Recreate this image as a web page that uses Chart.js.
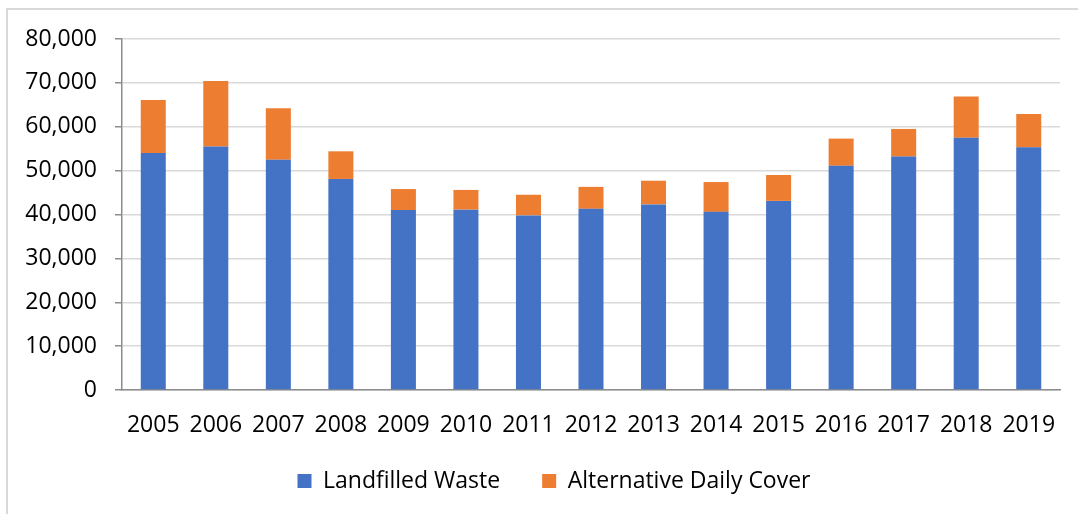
<!DOCTYPE html>
<html>
<head>
<meta charset="utf-8">
<script src="https://cdn.jsdelivr.net/npm/chart.js@4.4.1/dist/chart.umd.min.js"></script>
<style>
  html, body { margin: 0; padding: 0; background: #ffffff; overflow: hidden; }
  #wrap { position: relative; width: 1078px; height: 514px; }
  #frame { position: absolute; left: 6px; top: 8px; width: 1100px; height: 540px; border: 2px solid #d9d9d9; box-sizing: border-box; pointer-events: none; }
  canvas { position: absolute; left: 0; top: 0; }
</style>
</head>
<body>
<div id="wrap">
  <div id="frame"></div>
  <canvas id="c" width="1078" height="514"></canvas>
</div>
<script>
const years = ['2005','2006','2007','2008','2009','2010','2011','2012','2013','2014','2015','2016','2017','2018','2019'];
const landfilledWaste = [54000, 55500, 52500, 48100, 41000, 41100, 39800, 41300, 42300, 40600, 43100, 51100, 53200, 57500, 55300];
const alternativeDailyCover = [12100, 14900, 11700, 6300, 4800, 4500, 4700, 5000, 5400, 6800, 5900, 6200, 6300, 9400, 7600];
const yMax = 80000;
const yStep = 10000;

const FONT = '"Open Sans", "Liberation Sans", sans-serif';
const LEGEND_HEIGHT = 72;
const LEGEND_PAD = 42;
const LEGEND_FONT = 23;
const LEGEND_TEXT_Y = 481;
const LEGEND_SHIFT_X = 24;

const legendPatch = {
  id: 'legendPatch',
  beforeLayout(chart) {
    const lg = chart.legend;
    if (lg && !lg._fitPatched) {
      const orig = lg.fit;
      lg.fit = function () { orig.call(this); this.height = LEGEND_HEIGHT; };
      lg._fitPatched = true;
    }
  },
  afterLayout(chart) {
    const lg = chart.legend;
    if (!lg) return;
    const newTop = LEGEND_TEXT_Y - LEGEND_PAD - LEGEND_FONT / 2;
    const dy = newTop - lg.top;
    lg.top += dy; lg.bottom += dy;
    lg.left += LEGEND_SHIFT_X; lg.right += LEGEND_SHIFT_X;
  }
};

new Chart(document.getElementById('c'), {
  type: 'bar',
  data: {
    labels: years,
    datasets: [
      { label: 'Landfilled Waste', data: landfilledWaste, backgroundColor: '#4472C4', barPercentage: 0.4, categoryPercentage: 1.0 },
      { label: 'Alternative Daily Cover', data: alternativeDailyCover, backgroundColor: '#ED7D31', barPercentage: 0.4, categoryPercentage: 1.0 }
    ]
  },
  plugins: [legendPatch],
  options: {
    responsive: false,
    animation: false,
    layout: { padding: { left: 0, right: 18, top: 39, bottom: 0 } },
    plugins: {
      tooltip: { enabled: false },
      legend: {
        position: 'bottom',
        labels: {
          font: { family: FONT, size: LEGEND_FONT },
          color: '#000000',
          boxWidth: 14,
          boxHeight: 14,
          padding: LEGEND_PAD
        }
      }
    },
    scales: {
      x: {
        stacked: true,
        grid: { display: false, drawTicks: false },
        border: { display: true, color: '#8c8c8c', width: 1.5 },
        ticks: { font: { family: FONT, size: 23 }, color: '#000000', padding: 22, autoSkip: false, maxRotation: 0 },
        afterFit: (s) => { s.height = 52; }
      },
      y: {
        stacked: true,
        min: 0,
        max: yMax,
        ticks: { stepSize: yStep, font: { family: FONT, size: 23 }, color: '#000000', padding: 18 },
        grid: { color: '#d9d9d9', lineWidth: 1.5, tickColor: '#8c8c8c', tickLength: 7 },
        border: { display: true, color: '#8c8c8c', width: 1.5 },
        afterFit: (s) => { s.width = 122; }
      }
    }
  }
});
</script>
</body>
</html>
